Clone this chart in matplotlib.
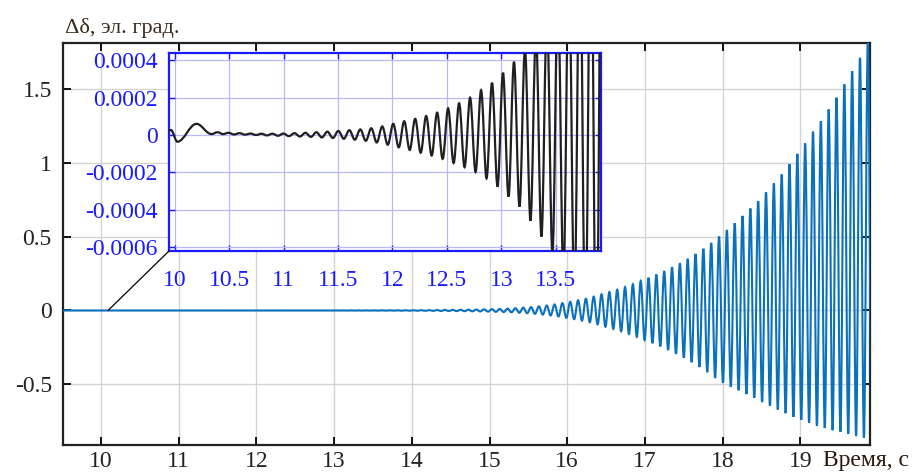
import numpy as np
import matplotlib.pyplot as plt
from matplotlib.path import Path
from matplotlib.patches import PathPatch, ConnectionPatch

plt.rcParams['font.family'] = ['Liberation Serif', 'DejaVu Serif']
plt.rcParams['axes.unicode_minus'] = False

# transient right after the disturbance at t = 10 s (el. deg)
trans_t = [9.5, 9.93, 9.966, 10.025, 10.2, 10.338]
trans_v = [0.0, 0.18e-4, 0.27e-4, -0.36e-4, 0.6e-4, 0.05e-4]

# then growing swings, first maximum at 10.394 s, period ~0.1008 s
swing_t0 = 10.394
swing_period = 0.1008

# maxima / minima of the first 31 swings, in 1e-4 el. deg
hi_small = [0.15, 0.12, 0.1, 0.08, 0.07, 0.07, 0.08, 0.1, 0.12, 0.15,
            0.18, 0.22, 0.26, 0.3, 0.36, 0.46, 0.6, 0.74, 0.87, 1.02,
            1.2, 1.43, 1.7, 2.0, 2.4, 2.8, 3.34, 3.93, 4.6, 5.4, 6.4]
lo_small = [0.05, 0.03, 0.02, 0.0, -0.02, -0.04, -0.06, -0.08, -0.1, -0.13,
            -0.16, -0.2, -0.25, -0.31, -0.4, -0.52, -0.66, -0.8, -0.95, -1.1,
            -1.28, -1.5, -1.72, -1.98, -2.32, -2.77, -3.3, -3.84, -4.6, -5.45, -6.4]

# maxima / minima of the remaining swings, el. deg
hi_big = [0.00076, 0.0009, 0.00107, 0.00127, 0.0015, 0.00178, 0.0021, 0.0025, 0.00295, 0.0035,
          0.0041, 0.0048, 0.0056, 0.0066, 0.0078, 0.0092, 0.0108, 0.0127, 0.0155, 0.019,
          0.023, 0.028, 0.034, 0.041, 0.050, 0.059, 0.069, 0.080, 0.094, 0.110,
          0.125, 0.141, 0.159, 0.178, 0.200, 0.221, 0.243, 0.267, 0.293, 0.320,
          0.350, 0.382, 0.418, 0.457, 0.50, 0.545, 0.59, 0.64, 0.69, 0.74,
          0.80, 0.86, 0.92, 0.99, 1.06, 1.13, 1.21, 1.28, 1.36, 1.44,
          1.53, 1.62, 1.71, 1.82]
lo_big = [-0.00076, -0.0009, -0.00107, -0.00127, -0.0015, -0.00178, -0.0021, -0.0025, -0.00295, -0.0035,
          -0.0041, -0.0048, -0.0056, -0.0066, -0.0078, -0.0092, -0.0108, -0.0127, -0.0155, -0.019,
          -0.023, -0.028, -0.034, -0.041, -0.050, -0.059, -0.069, -0.080, -0.094, -0.110,
          -0.125, -0.141, -0.159, -0.178, -0.200, -0.221, -0.243, -0.267, -0.293, -0.320,
          -0.350, -0.382, -0.418, -0.457, -0.49, -0.515, -0.54, -0.565, -0.59, -0.62,
          -0.645, -0.67, -0.695, -0.72, -0.74, -0.76, -0.78, -0.795, -0.81, -0.82,
          -0.835, -0.85, -0.86, -0.87]

main_xticks = [10, 11, 12, 13, 14, 15, 16, 17, 18, 19]
main_yticks = [-0.5, 0, 0.5, 1, 1.5]
main_ylabels = ['-0.5', '0', '0.5', '1', '1.5']
ins_xticks = [10, 10.5, 11, 11.5, 12, 12.5, 13, 13.5]
ins_yticks = [-0.0006, -0.0004, -0.0002, 0, 0.0002, 0.0004]
ins_ylabels = ['-0.0006', '-0.0004', '-0.0002', '0', '0.0002', '0.0004']


def swing_path():
  hi = np.concatenate([np.array(hi_small) * 1e-4, hi_big])
  lo = np.concatenate([np.array(lo_small) * 1e-4, lo_big])
  k = np.arange(len(hi))
  t_hi = swing_t0 + k * swing_period
  t_lo = t_hi + swing_period / 2
  ts = np.concatenate([trans_t, np.column_stack([t_hi, t_lo]).ravel()])
  vs = np.concatenate([trans_v, np.column_stack([hi, lo]).ravel()])
  # smooth half-waves between consecutive extrema (flat tangents at the extrema)
  verts = [(ts[0], vs[0])]
  codes = [Path.MOVETO]
  for i in range(1, len(ts)):
    h = (ts[i] - ts[i - 1]) * 0.364
    verts += [(ts[i - 1] + h, vs[i - 1]), (ts[i] - h, vs[i]), (ts[i], vs[i])]
    codes += [Path.CURVE4] * 3
  return Path(verts, codes)


fig = plt.figure(figsize=(9.22, 4.74), dpi=100)
ax = fig.add_axes([0.0683, 0.0612, 0.8753, 0.8481])

path = swing_path()
ax.add_patch(PathPatch(path, fill=False, edgecolor='#0a72bd', lw=1.5, zorder=3))
ax.set_xlim(9.51, 19.897)
ax.set_ylim(-0.91, 1.81)
ax.set_xticks(main_xticks)
ax.set_yticks(main_yticks)
ax.set_yticklabels(main_ylabels)
ax.grid(True, color='#d4d4d4', lw=1.0)
ax.set_axisbelow(True)
ax.tick_params(direction='in', length=6, width=1.3, top=True, right=True,
               labelsize=17, labelcolor='#222222', pad=8)
ax.tick_params(axis='x', pad=4)
for s in ax.spines.values():
  s.set_linewidth(1.6)
  s.set_color('#222222')

fig.text(0.0705, 0.9297, 'Δδ, эл. град.', fontsize=16, color='#3a2a1a', va='baseline')
fig.text(0.8926, 0.016, 'Время, с', fontsize=17, color='#2a1a0a', va='baseline')

# zoomed inset of the beginning of the swings
axins = fig.add_axes([0.1833, 0.4705, 0.4685, 0.4177])
axins.add_patch(PathPatch(path, fill=False, edgecolor='#202020', lw=1.6, zorder=3))
axins.set_xlim(9.948, 13.914)
axins.set_ylim(-0.000622, 0.00044)
axins.set_xticks(ins_xticks)
axins.set_xticklabels(['10', '10.5', '11', '11.5', '12', '12.5', '13', '13.5'])
axins.set_yticks(ins_yticks)
axins.set_yticklabels(ins_ylabels)
axins.grid(True, color='#b8b8ff', lw=0.9)
axins.set_axisbelow(True)
axins.tick_params(direction='in', length=4, width=1, top=True, right=True,
                  color='#1a1aff', labelsize=17, labelcolor='#1a1aff')
axins.tick_params(axis='x', pad=14)
axins.tick_params(axis='y', pad=8)
for s in axins.spines.values():
  s.set_linewidth(1.6)
  s.set_color('#1a1aff')

con = ConnectionPatch(xyA=(10.09, 0), coordsA=ax.transData,
                      xyB=(0, 0), coordsB=axins.transAxes,
                      color='black', lw=0.9, zorder=5)
fig.add_artist(con)

fig.savefig('out.png', dpi=100)
